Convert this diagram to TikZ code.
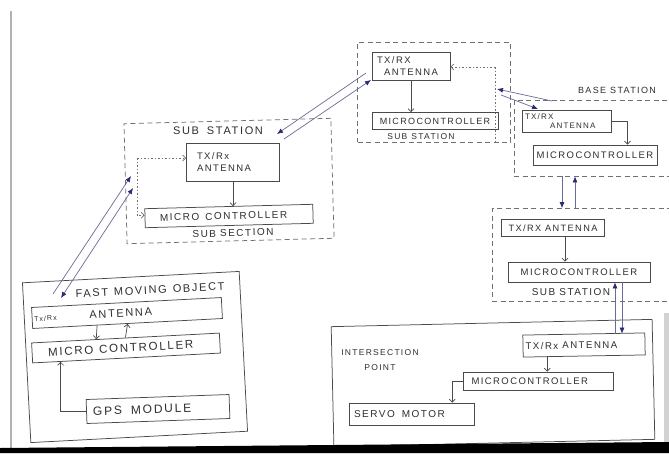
\documentclass[tikz,border=0pt]{standalone}
\usepackage{fontspec}
\setmainfont{Liberation Sans}
\newfontfamily\hand{Liberation Sans}[LetterSpace=15]
\usetikzlibrary{arrows.meta,calc}
\definecolor{ink}{HTML}{4A4A4A}
\definecolor{dashink}{HTML}{707070}
\definecolor{txt}{HTML}{2E2E2E}
\definecolor{blueink}{HTML}{6A6A9A}
\definecolor{navy}{HTML}{2A2A72}
\newcommand\hf[1]{\hand\fontsize{#1}{#1}\selectfont}
\newcommand\ws{\hspace{4pt}}
\tikzset{
  navytip/.tip={Latex[length=6pt,width=5pt,color=navy]},
  barbtip/.tip={Straight Barb[length=3pt,width=6pt]},
}
\begin{document}
\begin{tikzpicture}[x=1pt,y=-1pt,
  box/.style={draw=ink, line width=0.75pt, inner sep=1pt, text=txt},
  frame/.style={draw=ink, line width=0.75pt, inner sep=0pt},
  dframe/.style={draw=dashink, line width=0.75pt, dash pattern=on 5pt off 3.5pt, inner sep=0pt},
  lbl/.style={text=txt, inner sep=0pt},
  flow/.style={draw=ink, line width=0.7pt, -barbtip},
  dotflow/.style={draw=dashink, line width=0.7pt, dash pattern=on 1.5pt off 2pt},
  link/.style={draw=blueink, line width=0.7pt, -navytip},
  linkb/.style={draw=blueink, line width=0.7pt, navytip-navytip},
]
\useasboundingbox (0,0) rectangle (669,453);
\fill[white] (0,0) rectangle (669,453);

% ---------- Fast moving object ----------
\node[frame, minimum width=217pt, minimum height=160pt, rotate=3] (fmo) at (135,357) {};
\node[lbl, font={\hf{11}}, rotate=3] (fmotitle) at (150,290) {FAST\hspace{6pt}MOVING\hspace{6pt}OBJECT};
\node[box, minimum width=190pt, minimum height=21pt, rotate=3, text width=186pt, align=left, font={\hf{11}}] (fant) at (127,313) {{\hf{7}Tx/Rx}\hspace{33pt}ANTENNA};
\node[box, minimum width=188pt, minimum height=20pt, rotate=3, text width=184pt, align=left, font={\hf{11.5}}] (fmc) at (126,348) {\hspace*{14pt}MICRO\hspace{6pt}CONTROLLER};
\node[box, minimum width=143pt, minimum height=24pt, rotate=2, text width=136pt, align=left, font={\hf{12}}] (gps) at (158,409) {\hspace*{3pt}GPS\hspace{9pt}MODULE};
\draw[flow] ($(fant.south west)!0.34!(fant.south east)$) -- ($(fmc.north west)!0.345!(fmc.north east)$);
\draw[flow] ($(fmc.north west)!0.5!(fmc.north east)$) -- ($(fant.south west)!0.5!(fant.south east)$);
\draw[flow] (gps.west) -| ($(fmc.south west)!0.15!(fmc.south east)$);

% ---------- Sub station (left) ----------
\node[dframe, minimum width=207pt, minimum height=120pt, rotate=1.5] (ss) at (229,181) {};
\node[lbl, font={\hf{11}}] (sstitle) at (218,131) {SUB\hspace{8pt}STATION};
\node[box, minimum width=93pt, minimum height=38pt, text width=72pt, align=left, font={\hf{9.5}}] (sant) at (233,162) {TX/Rx\\[3pt]ANTENNA};
\node[box, minimum width=168pt, minimum height=19pt, rotate=1.5, text width=164pt, align=left, font={\hf{10}}] (smc) at (229,216) {\hspace*{13pt}MICRO\hspace{6pt}CONTROLLER};
\node[lbl, font={\hf{10}}, rotate=1.5] (sssub) at (233,233) {SUB\ws SECTION};
\draw[flow] (sant.south) -- (sant.south |- smc.north);
\coordinate (sdot) at (137,158);
\draw[dotflow, -barbtip] (sdot) -- (sdot -| sant.west);
\draw[dotflow, -barbtip] (sdot) |- ([yshift=3pt]smc.west);

\coordinate (fa1) at (53,294);
\coordinate (fa2) at (131,176);
\coordinate (fb1) at (133,188);
\coordinate (fb2) at (61,298);
\draw[link] (fa1) -- (fa2);
\draw[linkb] (fb1) -- (fb2);

% ---------- Central sub station ----------
\node[dframe, minimum width=153pt, minimum height=100pt] (cs) at (434,92) {};
\node[box, minimum width=78pt, minimum height=28pt, text width=68pt, align=left, font={\hf{9.5}}] (cant) at (411,66) {TX/RX\\[2pt]\hspace*{7pt}ANTENNA};
\node[box, minimum width=126pt, minimum height=17pt, font={\hf{9}}] (cmc) at (435,121) {MICROCONTROLLER};
\node[lbl, font={\hf{8.5}}] (cssub) at (421,137) {SUB\ws STATION};
\draw[flow] (cant.south) -- (cant.south |- cmc.north);
\coordinate (cdot) at (495,67);
\draw[dotflow, -barbtip] (cdot) -- (cdot -| cant.east);
\draw[dotflow] (cdot) -- (cdot |- cs.south);

\coordinate (sc1) at (366,73);
\coordinate (sc2) at (277,134);
\coordinate (sc3) at (284,139);
\coordinate (sc4) at (371,80);
\draw[link] (sc1) -- (sc2);
\draw[link] (sc3) -- (sc4);

% ---------- Base station ----------
\node[dframe, minimum width=166pt, minimum height=76pt] (bs) at (597,138) {};
\node[lbl, font={\hf{9}}] (bstitle) at (617,90) {BASE\ws STATION};
\node[box, minimum width=89pt, minimum height=22pt, inner ysep=0pt, text width=84pt, align=left, font={\hf{8}}] (bant) at (567,121) {TX/RX\\[1pt]\hspace*{25pt}ANTENNA};
\node[box, minimum width=124pt, minimum height=20pt, font={\hf{9.5}}] (bmc) at (595,155) {MICROCONTROLLER};
\draw[flow] (bant.east) -| ($(bmc.north west)!0.76!(bmc.north east)$);

\coordinate (cb1) at (552,101);
\coordinate (cb2) at (497,89);
\coordinate (cb3) at (501,95);
\coordinate (cb4) at (538,109);
\draw[link] (cb1) -- (cb2);
\draw[link] (cb3) -- (cb4);

% ---------- Lower sub station ----------
\node[dframe, minimum width=188pt, minimum height=93pt] (ls) at (586,255) {};
\node[box, minimum width=103pt, minimum height=17pt, font={\hf{9.2}}] (lant) at (553,228) {TX/RX\ws ANTENNA};
\node[box, minimum width=142pt, minimum height=20pt, font={\hf{9.5}}] (lmc) at (579,272) {MICROCONTROLLER};
\node[lbl, font={\hf{10}}] (lssub) at (571,292) {SUB\ws STATION};
\coordinate (a3) at ($(lant.south)+(12,0)$);
\draw[flow] (a3) -- (a3 |- lmc.north);

\coordinate (v1) at (562,0);
\coordinate (v2) at (575,0);
\draw[link] (v1 |- bs.south) -- (v1 |- ls.north);
\draw[link] (v2 |- ls.north) -- (v2 |- bs.south);

% ---------- Intersection point ----------
\node[frame, minimum width=321pt, minimum height=120pt, rotate=1.3] (ip) at (493,383) {};
\node[lbl, font={\hf{8.5}}, align=center] (iptitle) at (380,360) {INTERSECTION\\[6pt]POINT};
\node[box, minimum width=122pt, minimum height=22pt, rotate=1, text width=117pt, align=left, font={\hf{9.7}}] (iant) at (584,345) {TX/Rx\ws ANTENNA};
\node[box, minimum width=150pt, minimum height=18pt, text width=145pt, align=left, font={\hf{9.5}}] (imc) at (538,381) {\hspace*{6pt}MICROCONTROLLER};
\node[box, minimum width=125pt, minimum height=22pt, text width=120pt, align=left, font={\hf{10}}] (servo) at (412,414) {\hspace*{2pt}SERVO\hspace{7pt}MOTOR};
\coordinate (a4) at ($(iant.south)+(-37,0)$);
\draw[flow] (a4) -- (a4 |- imc.north);
\draw[flow] (imc.west) -| ($(servo.north west)!0.82!(servo.north east)$);

\coordinate (v3) at (615,0);
\coordinate (v4) at (622,0);
\draw[link] (v3 |- iant.north) -- (v3 |- lmc.south);
\draw[link] (v4 |- lmc.south) -- (v4 |- iant.north);

% ---------- page edges ----------
\draw[gray!60, line width=1.2pt] (11,11) -- (11,448);
\fill[gray!35] (664,313) rectangle (669,447);
\fill[black] (0,448) -- (669,442) -- (669,453) -- (0,453) -- cycle;
\end{tikzpicture}
\end{document}
